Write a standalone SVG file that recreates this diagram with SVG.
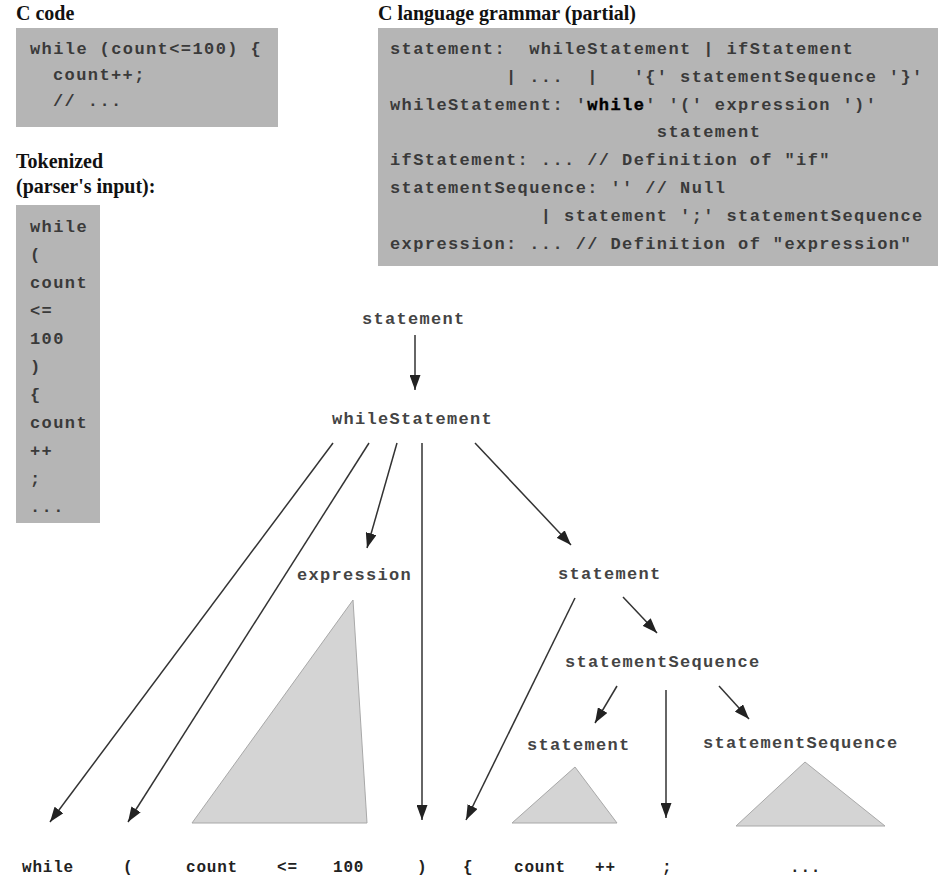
<svg xmlns="http://www.w3.org/2000/svg" width="950" height="892" viewBox="0 0 950 892">
<style>
.bg{fill:#ffffff}
.box{fill:#b5b5b5}
.head{font-family:"Liberation Serif","Times New Roman",serif;font-weight:bold;font-size:20px;fill:#111}
.code{font-family:"Liberation Mono","Courier New",monospace;font-weight:bold;font-size:17px;letter-spacing:1.4px;fill:#3a3a3a;white-space:pre}
.kw{fill:#000;stroke:#000;stroke-width:0.4}
.lbl{font-family:"Liberation Mono","Courier New",monospace;font-weight:bold;font-size:17px;letter-spacing:1.3px;fill:#444}
.tok{font-family:"Liberation Mono","Courier New",monospace;font-weight:bold;font-size:16px;letter-spacing:0.8px;fill:#222}
.edge{stroke:#333;stroke-width:1.5;fill:none}
.tri{fill:#d4d4d4;stroke:#a8a8a8;stroke-width:1}
</style>
<defs>
<marker id="ah" markerUnits="userSpaceOnUse" markerWidth="15" markerHeight="11" refX="15" refY="5.5" orient="auto">
<path d="M0,0 L15,5.5 L0,11 z" fill="#222"/>
</marker>
</defs>
<rect class="bg" x="0" y="0" width="950" height="892"/>

<g id="c-code">
<text class="head" x="16" y="20">C code</text>
<rect class="box" x="16" y="28" width="262" height="99"/>
<text class="code" x="30" y="54">while (count&lt;=100) {</text>
<text class="code" x="53" y="80">count++;</text>
<text class="code" x="53" y="106">// ...</text>
</g>

<g id="tokenized">
<text class="head" x="16" y="168">Tokenized</text>
<text class="head" x="16" y="193">(parser's input):</text>
<rect class="box" x="16" y="205" width="84" height="318"/>
<text class="code" x="30" y="232">while</text>
<text class="code" x="30" y="260">(</text>
<text class="code" x="30" y="288">count</text>
<text class="code" x="30" y="316">&lt;=</text>
<text class="code" x="30" y="344">100</text>
<text class="code" x="30" y="372">)</text>
<text class="code" x="30" y="400">{</text>
<text class="code" x="30" y="428">count</text>
<text class="code" x="30" y="456">++</text>
<text class="code" x="30" y="484">;</text>
<text class="code" x="30" y="512">...</text>
</g>

<g id="grammar">
<text class="head" x="378" y="20">C language grammar (partial)</text>
<rect class="box" x="378" y="28" width="560" height="238"/>
<text class="code" x="390" y="54">statement:  whileStatement | ifStatement</text>
<text class="code" x="390" y="82">          | ...  |   '{' statementSequence '}'</text>
<text class="code" x="390" y="110">whileStatement: '<tspan class="kw">while</tspan>' '(' expression ')'</text>
<text class="code" x="390" y="137">                       statement</text>
<text class="code" x="390" y="165">ifStatement: ... // Definition of "if"</text>
<text class="code" x="390" y="193">statementSequence: '' // Null</text>
<text class="code" x="390" y="221">             | statement ';' statementSequence</text>
<text class="code" x="390" y="249">expression: ... // Definition of "expression"</text>
</g>

<g id="connectors">
<line class="edge" x1="415" y1="335" x2="415" y2="390" marker-end="url(#ah)"/>
<line class="edge" x1="333" y1="443" x2="50" y2="822" marker-end="url(#ah)"/>
<line class="edge" x1="369" y1="443" x2="128" y2="822" marker-end="url(#ah)"/>
<line class="edge" x1="397" y1="443" x2="367" y2="548" marker-end="url(#ah)"/>
<line class="edge" x1="422" y1="443" x2="422" y2="820" marker-end="url(#ah)"/>
<line class="edge" x1="475" y1="443" x2="571" y2="545" marker-end="url(#ah)"/>
<line class="edge" x1="575" y1="598" x2="466" y2="820" marker-end="url(#ah)"/>
<line class="edge" x1="623" y1="597" x2="657" y2="633" marker-end="url(#ah)"/>
<line class="edge" x1="617" y1="686" x2="595" y2="723" marker-end="url(#ah)"/>
<line class="edge" x1="666" y1="690" x2="666" y2="818" marker-end="url(#ah)"/>
<line class="edge" x1="719" y1="686" x2="749" y2="719" marker-end="url(#ah)"/>
</g>

<g id="n-statement-root"><text class="lbl" x="362" y="324">statement</text></g>
<g id="n-whileStatement"><text class="lbl" x="332" y="424">whileStatement</text></g>
<g id="n-expression">
<text class="lbl" x="297" y="580">expression</text>
<polygon class="tri" points="353,600 192,823 367,823"/>
</g>
<g id="n-statement-body"><text class="lbl" x="558" y="579">statement</text></g>
<g id="n-statementSequence"><text class="lbl" x="565" y="667">statementSequence</text></g>
<g id="n-statement-inner">
<text class="lbl" x="527" y="750">statement</text>
<polygon class="tri" points="575,767 512,823 617,823"/>
</g>
<g id="n-statementSequence-rest">
<text class="lbl" x="703" y="748">statementSequence</text>
<polygon class="tri" points="805,762 736,826 885,826"/>
</g>

<g id="tokens">
<text class="tok" x="22" y="872">while</text>
<text class="tok" x="123" y="872">(</text>
<text class="tok" x="186" y="872">count</text>
<text class="tok" x="277" y="872">&lt;=</text>
<text class="tok" x="333" y="872">100</text>
<text class="tok" x="417" y="872">)</text>
<text class="tok" x="463" y="872">{</text>
<text class="tok" x="514" y="872">count</text>
<text class="tok" x="595" y="872">++</text>
<text class="tok" x="662" y="872">;</text>
<text class="tok" x="790" y="872">...</text>
</g>
</svg>
